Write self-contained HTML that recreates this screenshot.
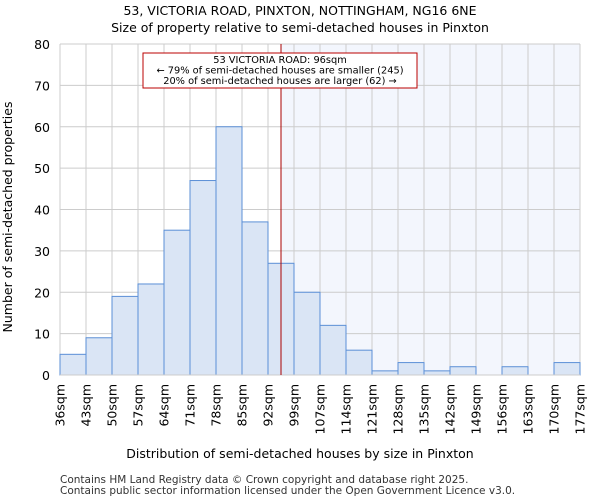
<!DOCTYPE html>
<html><head><meta charset="utf-8"><style>
body{margin:0;background:#fff;font-family:"DejaVu Sans","Liberation Sans",sans-serif}
</style></head><body>
<svg width="600" height="500" xmlns="http://www.w3.org/2000/svg" font-family="DejaVu Sans, Liberation Sans, sans-serif">
<text x="300" y="15" text-anchor="middle" font-size="12.5">53, VICTORIA ROAD, PINXTON, NOTTINGHAM, NG16 6NE</text>
<text x="300" y="32" text-anchor="middle" font-size="12.5">Size of property relative to semi-detached houses in Pinxton</text>
<g id="plot"></g>
<text x="300" y="458" text-anchor="middle" font-size="12.5">Distribution of semi-detached houses by size in Pinxton</text>
<text transform="translate(12,217) rotate(-90)" text-anchor="middle" font-size="12.5">Number of semi-detached properties</text>
<text x="60" y="483" font-size="10.5" fill="#333">Contains HM Land Registry data © Crown copyright and database right 2025.</text>
<text x="60" y="494" font-size="10.5" fill="#333">Contains public sector information licensed under the Open Government Licence v3.0.</text>
</svg>
<script>
const labels=["36sqm","43sqm","50sqm","57sqm","64sqm","71sqm","78sqm","85sqm","92sqm","99sqm","107sqm","114sqm","121sqm","128sqm","135sqm","142sqm","149sqm","156sqm","163sqm","170sqm","177sqm"];
const counts=[5,9,19,22,35,47,60,37,27,20,12,6,1,3,1,2,0,2,0,3];
const yTicks=[0,10,20,30,40,50,60,70,80];
const propertyBin=8.5;
const NS="http://www.w3.org/2000/svg";
const g=document.getElementById('plot');
const L=60,R=580,T=44,B=375,yMax=80;
const n=counts.length;
const x=i=>L+(R-L)*i/n;
const y=v=>B-(B-T)*v/yMax;
function mk(t,a){const e=document.createElementNS(NS,t);for(const k in a)e.setAttribute(k,a[k]);g.appendChild(e);return e;}
const px=x(propertyBin);
let e=mk('rect',{x:px,y:T,width:R-px,height:B-T,fill:'#f3f6fd'});


yTicks.forEach(v=>{
 let l=mk('line',{x1:L,x2:R,y1:y(v),y2:y(v),stroke:'#ccc','stroke-width':1});
 
 
 let t=mk('text',{x:L-10,y:y(v)+5,'text-anchor':'end','font-size':12.5});
 t.textContent=v;
 
 
});
labels.forEach((s,i)=>{
 let l=mk('line',{x1:x(i),x2:x(i),y1:T,y2:B,stroke:'#ccc','stroke-width':1});
 
 
 let t=mk('text',{transform:`translate(${x(i)+4.5},${B+9}) rotate(-90)`,'text-anchor':'end','font-size':12.5});
 t.textContent=s;
 
 
});
counts.forEach((c,i)=>{
 let r=mk('rect',{x:x(i),y:y(c),width:x(i+1)-x(i),height:B-y(c),fill:'#dae5f5',stroke:'#5b8fd6','stroke-width':1});
 
 
});
let ax=mk('line',{x1:L,x2:R,y1:B,y2:B,stroke:'#ccc','stroke-width':1});


let ml=mk('line',{x1:px,x2:px,y1:T,y2:B,stroke:'#a00','stroke-width':1});


let box=mk('rect',{x:143,y:53,width:274,height:35,fill:'#fff',stroke:'#b00','stroke-width':1});


["53 VICTORIA ROAD: 96sqm","← 79% of semi-detached houses are smaller (245)","20% of semi-detached houses are larger (62) →"].forEach((s,i)=>{
 let t=mk('text',{x:280,y:63+i*10.5,'text-anchor':'middle','font-size':9.8});
 t.textContent=s;
 
 
});
</script>
</body></html>
